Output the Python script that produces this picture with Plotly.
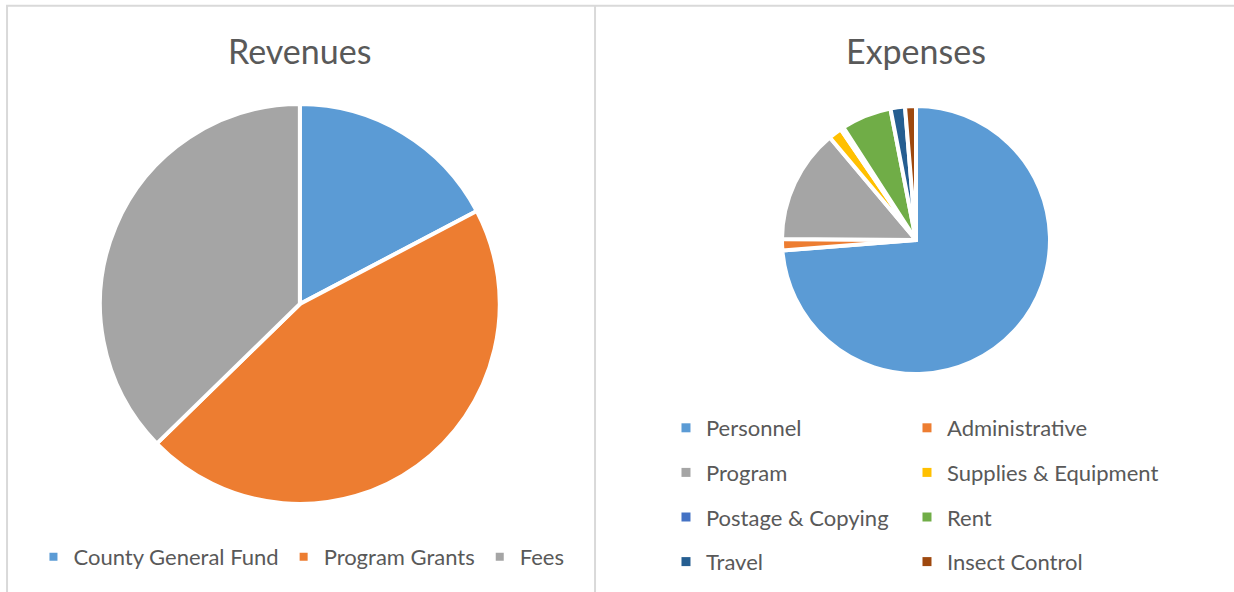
import plotly.graph_objects as go

# ---- data ----
rev_labels = ["County General Fund", "Program Grants", "Fees"]
rev_values = [17.3, 45.4, 37.3]
rev_colors = ["#5B9BD5", "#ED7D31", "#A5A5A5"]

exp_labels = ["Personnel", "Administrative", "Program", "Supplies & Equipment",
              "Postage & Copying", "Rent", "Travel", "Insect Control"]
exp_values = [73.75, 1.39, 13.75, 1.61, 0.39, 6.06, 1.75, 1.31]
exp_colors = ["#5B9BD5", "#ED7D31", "#A5A5A5", "#FFC000",
              "#4472C4", "#70AD47", "#255E91", "#9E480E"]

titles = ["Revenues", "Expenses"]

FONT = "Lato"
TXT = "#595959"
GRID = "#D9D9D9"

fig = go.Figure()

fig.add_trace(go.Pie(
    labels=rev_labels, values=rev_values, sort=False, direction="clockwise",
    rotation=0, textinfo="none", hole=0,
    marker=dict(colors=rev_colors, line=dict(color="white", width=4)),
    domain=dict(x=[0.081, 0.405], y=[0.1486, 0.8243]),
    legend="legend", showlegend=True,
))

fig.add_trace(go.Pie(
    labels=exp_labels, values=exp_values, sort=False, direction="clockwise",
    rotation=0, textinfo="none",
    marker=dict(colors=exp_colors, line=dict(color="white", width=4)),
    domain=dict(x=[0.6337, 0.8509], y=[0.3682, 0.8209]),
    showlegend=False,
))

# legend key for the expenses chart (two columns)
for i, (lab, col) in enumerate(zip(exp_labels, exp_colors)):
    fig.add_trace(go.Scatter(
        x=[None], y=[None], mode="markers", name=lab,
        marker=dict(symbol="square", size=9, color=col),
        legend="legend2" if i % 2 == 0 else "legend3",
        legendgroup=lab, showlegend=True, hoverinfo="skip",
    ))

legend_common = dict(font=dict(family=FONT, size=22, color=TXT),
                      bgcolor="rgba(0,0,0,0)", itemclick=False, itemdoubleclick=False)

fig.update_layout(
    width=1234, height=592,
    margin=dict(l=0, r=0, t=0, b=0, autoexpand=False),
    paper_bgcolor="white", plot_bgcolor="white",
    xaxis=dict(visible=False), yaxis=dict(visible=False),
    font=dict(family=FONT, color=TXT),
    legend=dict(orientation="h", x=0.2443, xanchor="center", y=0.059, yanchor="middle",
                **legend_common),
    legend2=dict(orientation="v", x=0.5397, xanchor="left", y=0.3125, yanchor="top",
                 tracegroupgap=13, **legend_common),
    legend3=dict(orientation="v", x=0.735, xanchor="left", y=0.3125, yanchor="top",
                 tracegroupgap=13, **legend_common),
    annotations=[
        dict(text=titles[0], x=0.2431, y=0.9155, xref="paper", yref="paper",
             xanchor="center", yanchor="middle",
             showarrow=False, font=dict(family=FONT, size=34, color=TXT)),
        dict(text=titles[1], x=0.7423, y=0.9155, xref="paper", yref="paper",
             xanchor="center", yanchor="middle",
             showarrow=False, font=dict(family=FONT, size=34, color=TXT)),
    ],
    shapes=[
        dict(type="line", xref="paper", yref="paper", x0=0.0049, x1=1, y0=0.9904, y1=0.9904,
             line=dict(color=GRID, width=2)),
        dict(type="line", xref="paper", yref="paper", x0=0.0057, x1=0.0057, y0=0, y1=0.9904,
             line=dict(color=GRID, width=2)),
        dict(type="line", xref="paper", yref="paper", x0=0.4822, x1=0.4822, y0=0, y1=0.9904,
             line=dict(color=GRID, width=2)),
    ],
)

fig.write_html("out.html")
